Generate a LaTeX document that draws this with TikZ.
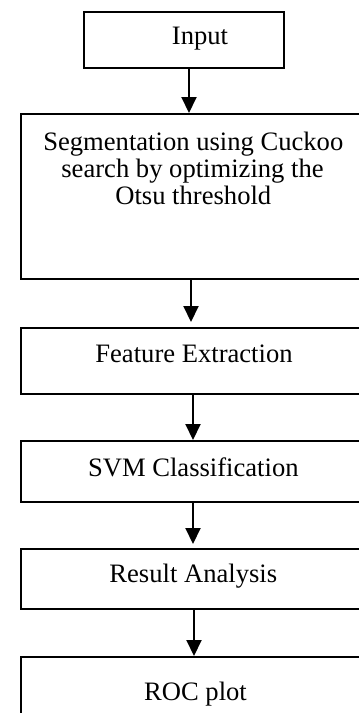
\documentclass[tikz,border=0pt]{standalone}
\usepackage{fontspec}
\setmainfont{Liberation Serif}
\usetikzlibrary{arrows.meta}
\begin{document}
\begin{tikzpicture}[x=1pt,y=-1pt,
  stage/.style={draw, line width=1.8pt, rectangle, inner sep=0pt, anchor=north west},
  label/.style={anchor=base, inner sep=0pt, font=\fontsize{26.6}{27}\selectfont},
  flow/.style={line width=2pt, -{Triangle[width=15pt,length=16pt]}}]
\useasboundingbox (0,0) rectangle (359,713);
\clip (0,0) rectangle (359,713);

% process stages (the column runs off the right and bottom edges)
\node[stage, minimum width=200pt, minimum height=56pt]  (inp) at (83,11)  {};
\node[stage, minimum width=347pt, minimum height=165pt] (seg) at (20,113) {};
\node[stage, minimum width=347pt, minimum height=66pt]  (fea) at (20,327) {};
\node[stage, minimum width=347pt, minimum height=61pt]  (svm) at (20,440) {};
\node[stage, minimum width=347pt, minimum height=60pt]  (res) at (20,548) {};
\node[stage, minimum width=347pt, minimum height=90pt]  (roc) at (20,656) {};

% stage captions
\node[label] (tinp)  at (200,44.5)  {Input};
\node[label] (tsegA) at (193.3,150.7) {Segmentation using Cuckoo};
\node[label] (tsegB) at (192.5,177.5) {search by optimizing the};
\node[label] (tsegC) at (193.3,204.5) {Otsu threshold};
\node[label] (tfea)  at (194,362.3) {Feature Extraction};
\node[label] (tsvm)  at (193.3,476.7) {SVM Classification};
\node[label] (tres)  at (193.3,582.3) {Result Analysis};
\node[label] (troc)  at (195.5,700.5) {ROC plot};

% arrow columns
\coordinate (c1) at (189,0);
\coordinate (c2) at (191,0);
\coordinate (c3) at (193,0);
\coordinate (c4) at (193,0);
\coordinate (c5) at (194,0);

\draw[flow] (inp.south -| c1) -- (seg.north -| c1);
\draw[flow] (seg.south -| c2) -- ([yshift=5pt]fea.north -| c2);
\draw[flow] (fea.south -| c3) -- (svm.north -| c3);
\draw[flow] (svm.south -| c4) -- ([yshift=4pt]res.north -| c4);
\draw[flow] (res.south -| c5) -- (roc.north -| c5);
\end{tikzpicture}
\end{document}
